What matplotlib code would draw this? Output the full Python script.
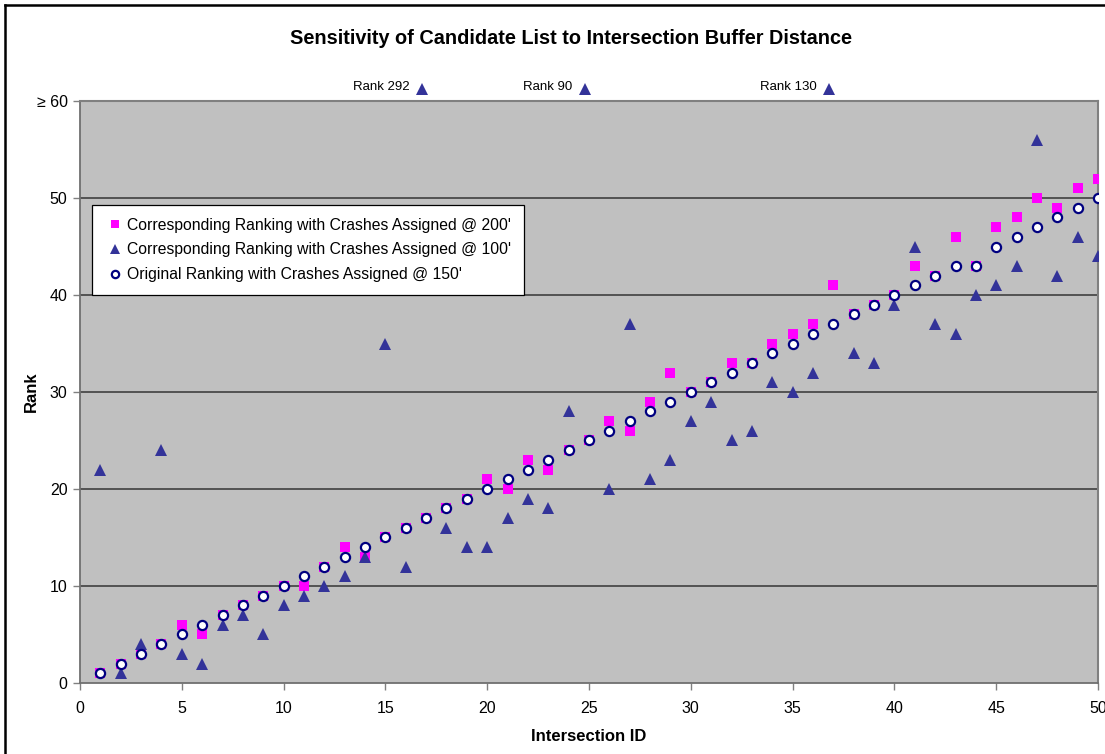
import matplotlib

matplotlib.use("Agg")
import matplotlib.pyplot as plt
from matplotlib.lines import Line2D
import numpy as np

plt.rcParams["font.family"] = ["Liberation Sans", "DejaVu Sans"]

# Intersection IDs and the rank each one gets under the three buffer distances
intersection_id = np.arange(1, 51)
rank_150 = [1, 2, 3, 4, 5, 6, 7, 8, 9, 10, 11, 12, 13, 14, 15, 16, 17, 18, 19, 20,
            21, 22, 23, 24, 25, 26, 27, 28, 29, 30, 31, 32, 33, 34, 35, 36, 37, 38, 39, 40,
            41, 42, 43, 43, 45, 46, 47, 48, 49, 50]
rank_200 = [1, 2, 3, 4, 6, 5, 7, 8, 9, 10, 10, 12, 14, 13, 15, 16, 17, 18, 19, 21,
            20, 23, 22, 24, 25, 27, 26, 29, 32, 30, 31, 33, 33, 35, 36, 37, 41, 38, 39, 40,
            43, 42, 46, 43, 47, 48, 50, 49, 51, 52]
rank_100 = [22, 1, 4, 24, 3, 2, 6, 7, 5, 8, 9, 10, 11, 13, 35, 12, 292, 16, 14, 14,
            17, 19, 18, 28, 90, 20, 37, 21, 23, 27, 29, 25, 26, 31, 30, 32, 130, 34, 33, 39,
            45, 37, 36, 40, 41, 43, 56, 42, 46, 44]

y_ticks = [0, 10, 20, 30, 40, 50, 60]
y_tick_labels = ["0", "10", "20", "30", "40", "50", "\u2265 60"]
x_ticks = [0, 5, 10, 15, 20, 25, 30, 35, 40, 45, 50]
rank_cap = 60

rank_100 = np.array(rank_100)
on_scale = rank_100 < rank_cap
off_scale = ~on_scale

fig = plt.figure(figsize=(11.05, 7.54), dpi=100)
ax = fig.add_axes([0.0724, 0.0942, 0.9213, 0.7718])
ax.set_facecolor("#C0C0C0")

ax.plot(intersection_id, rank_200, linestyle="none", marker="s", markersize=7.2,
        color="#FF00FF", markeredgewidth=0, zorder=3,
        label="Corresponding Ranking with Crashes Assigned @ 200'")
ax.plot(intersection_id[on_scale], rank_100[on_scale], linestyle="none", marker="^",
        markersize=8.2, color="#333399", markeredgewidth=0, zorder=4,
        label="Corresponding Ranking with Crashes Assigned @ 100'")
ax.plot(intersection_id, rank_150, linestyle="none", marker="o", markersize=6.6,
        markerfacecolor="white", markeredgecolor="#000080", markeredgewidth=1.6,
        zorder=5, label="Original Ranking with Crashes Assigned @ 150'")

# ranks beyond the axis are parked just above the plot with their value written out
for xi, r in zip(intersection_id[off_scale], rank_100[off_scale]):
    ax.plot(xi - 0.2, rank_cap + 1.2, linestyle="none", marker="^", markersize=8.2,
            color="#333399", markeredgewidth=0, clip_on=False, zorder=6)
    ax.text(xi - 0.8, rank_cap + 1.45, f"Rank {r}", ha="right", va="center",
            fontsize=9.5, clip_on=False)

ax.set_xlim(0, 50)
ax.set_ylim(0, 60)
ax.set_xticks(x_ticks)
ax.set_yticks(y_ticks)
ax.set_yticklabels(y_tick_labels)
ax.tick_params(axis="both", labelsize=11.5, length=5, width=1, color="#808080",
               direction="out")
ax.tick_params(axis="x", pad=8)
ax.tick_params(axis="y", pad=4)

for yv in y_ticks[1:-1]:
    ax.axhline(yv, color="#404040", linewidth=1.2, zorder=1)

for side in ["top", "right"]:
    ax.spines[side].set_color("#808080")
    ax.spines[side].set_linewidth(1.5)
for side in ["left", "bottom"]:
    ax.spines[side].set_color("#707070")
    ax.spines[side].set_linewidth(1.3)

ax.set_xlabel("Intersection ID", fontsize=12, fontweight="bold", labelpad=9)
ax.set_ylabel("Rank", fontsize=12, fontweight="bold", labelpad=-2)
fig.text(0.517, 0.949, "Sensitivity of Candidate List to Intersection Buffer Distance",
         ha="center", va="center", fontsize=14.3, fontweight="bold")

leg = ax.legend(loc="upper left", bbox_to_anchor=(0.0118, 0.821), borderaxespad=0,
                fancybox=False, framealpha=1, edgecolor="#000000", fontsize=11.3,
                handletextpad=0.15, handlelength=1.3, labelspacing=0.62,
                borderpad=0.8, markerscale=0.8)
leg.get_frame().set_linewidth(0.9)

# chart frame along the top and left edges
fig.add_artist(Line2D([0.0045, 1.0], [0.9934, 0.9934], color="black", linewidth=1.8))
fig.add_artist(Line2D([0.0045, 0.0045], [0.0, 0.9934], color="black", linewidth=1.8))

fig.savefig("out.png", dpi=100)
